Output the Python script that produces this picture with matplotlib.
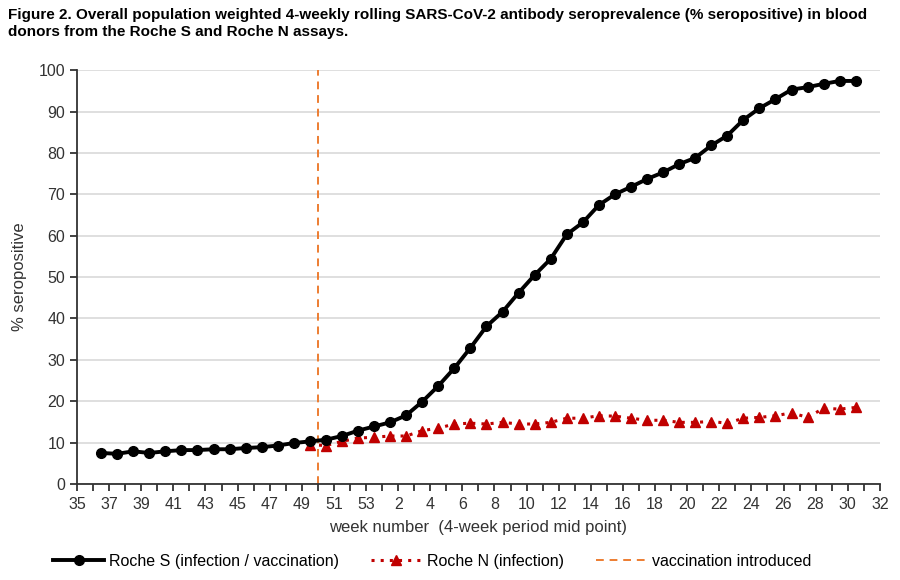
import numpy as np
import matplotlib
matplotlib.use('Agg')
import matplotlib.pyplot as plt

plt.rcParams['font.family'] = ['Liberation Sans', 'DejaVu Sans']

# week number of each 4-week period mid point (Roche S series)
weeks = list(range(36, 54)) + list(range(1, 31))
roche_s = [7.5, 7.3, 7.9, 7.5, 7.9, 8.2, 8.2, 8.4, 8.4, 8.7, 8.9, 9.3, 9.9, 10.3, 10.7, 11.6, 12.9, 13.9,
           14.9, 16.6, 19.9, 23.7, 28.0, 32.9, 38.1, 41.6, 46.2, 50.5, 54.4, 60.3, 63.2, 67.4, 70.0, 71.8,
           73.7, 75.3, 77.3, 78.8, 81.8, 84.2, 88.0, 90.8, 93.0, 95.3, 95.9, 96.7, 97.4, 97.4]

# Roche N starts at week 49
roche_n_start = 49
roche_n = [9.5, 9.3, 10.3, 11.1, 11.3, 11.6, 11.6, 12.9, 13.5, 14.5, 14.7, 14.5, 14.9, 14.5, 14.5, 14.9,
           15.9, 15.9, 16.5, 16.4, 15.9, 15.4, 15.4, 14.9, 14.9, 15.1, 14.7, 15.9, 16.1, 16.5, 17.2, 16.1,
           18.3, 18.1, 18.5]

tick_weeks = list(range(35, 54)) + list(range(1, 33))
vacc_week = 50

title = ("Figure 2. Overall population weighted 4-weekly rolling SARS-CoV-2 antibody seroprevalence (% seropositive) in blood\n"
         "donors from the Roche S and Roche N assays.")

# categories sit between tick marks, like the Excel original
x_s = np.arange(len(weeks)) + 1.5
i0 = weeks.index(roche_n_start)
x_n = x_s[i0:i0 + len(roche_n)]
x_vacc = tick_weeks.index(vacc_week)

fig = plt.figure(figsize=(9, 5.8), dpi=100)
ax = fig.add_axes([0.0856, 0.1655, 0.892, 0.7135])

ax.plot(x_s, roche_s, color='black', lw=2.8, marker='o', ms=7, label='Roche S (infection / vaccination)', zorder=4)
ax.plot(x_n, roche_n, color='#C00000', lw=2.2, ls=(0, (1, 2)), marker='^', ms=7.5,
        label='Roche N (infection)', zorder=3)
ax.axvline(x_vacc, color='#ED7D31', lw=1.4, ls=(0, (4, 3)), label='vaccination introduced', zorder=2)

ax.set_xlim(0, len(tick_weeks) - 1)
ax.set_ylim(0, 100)
ax.set_xticks(np.arange(len(tick_weeks)))
ax.set_xticklabels([str(w) if i % 2 == 0 else '' for i, w in enumerate(tick_weeks)])
ax.set_yticks(np.arange(0, 101, 10))
ax.grid(axis='y', color='#d9d9d9', lw=1.2)
ax.set_axisbelow(True)
for s in ['top', 'right']:
    ax.spines[s].set_visible(False)
for s in ['left', 'bottom']:
    ax.spines[s].set_color('#333333')
    ax.spines[s].set_linewidth(1.3)
ax.tick_params(axis='both', labelsize=11.5, color='#333333', width=1.3, length=5, colors='#333333')
ax.tick_params(axis='x', pad=4)

ax.set_xlabel('week number  (4-week period mid point)', fontsize=12, color='#333333', labelpad=6)
ax.set_ylabel('% seropositive', fontsize=12, color='#333333', labelpad=8)

fig.text(0.009, 0.987, title, fontsize=11, fontweight='bold', va='top', ha='left',
         family=['Liberation Sans Narrow', 'Liberation Sans', 'DejaVu Sans'], linespacing=1.3)

fig.legend(loc='lower center', bbox_to_anchor=(0.48, -0.005), ncol=3, frameon=False, fontsize=11.5,
           handlelength=3.2, columnspacing=2.0, handletextpad=0.3)

fig.savefig('out.png', dpi=100)
